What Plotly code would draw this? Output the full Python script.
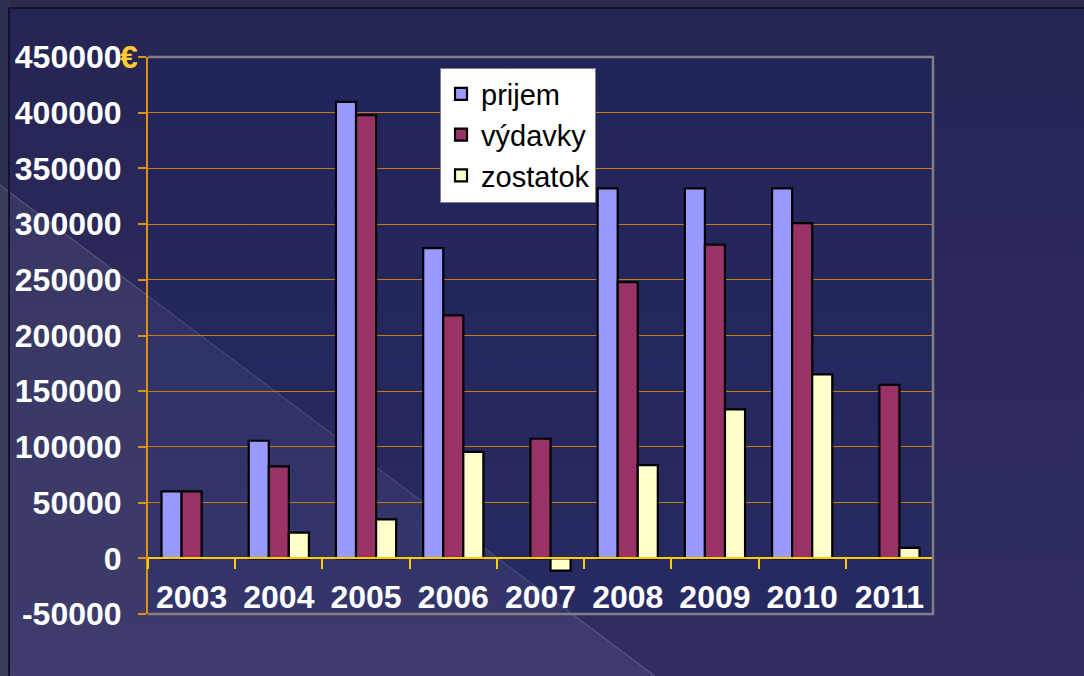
import base64
import plotly.graph_objects as go

# ---- data ----
years = ["2003", "2004", "2005", "2006", "2007", "2008", "2009", "2010", "2011"]
prijem = [60000, 105500, 409700, 278400, None, 332000, 332000, 332000, None]
vydavky = [60000, 82500, 397700, 218000, 107300, 248000, 281600, 300900, 155600]
zostatok = [None, 23000, 35000, 95500, -11100, 83600, 133600, 165100, 9300]
y_tickvals = [-50000, 0, 50000, 100000, 150000, 200000, 250000, 300000, 350000, 400000, 450000]
y_ticktext = ["-50000", "0", "50000", "100000", "150000", "200000", "250000",
              "300000", "350000", "400000", "450000"]

W, H = 1084, 676
L, R, T, B = 148, 151, 57, 62
PW, PH = W - L - R, H - T - B

FONT = "Arial, 'Liberation Sans', sans-serif"

# ---- slide background (svg image) ----
svg = f'''<svg xmlns="http://www.w3.org/2000/svg" width="{W}" height="{H}" viewBox="0 0 {W} {H}" preserveAspectRatio="none">
<defs><linearGradient id="g" x1="0" y1="0" x2="0" y2="1">
<stop offset="0" stop-color="#252554"/><stop offset="1" stop-color="#302e61"/></linearGradient></defs>
<rect width="{W}" height="{H}" fill="url(#g)"/>
<rect x="0" y="0" width="{W}" height="8" fill="#2a2c4a"/>
<rect x="0" y="0" width="9" height="{H}" fill="#2c2f50"/>
<polygon points="0,185 655,676 0,676" fill="#ffffff" fill-opacity="0.07"/>
<line x1="0" y1="185" x2="655" y2="676" stroke="#9a9acc" stroke-opacity="0.45" stroke-width="1"/>
<rect x="{L}" y="{T}" width="{PW}" height="{PH}" fill="#14206e" fill-opacity="0.22"/>
<line x1="9" y1="8" x2="{W}" y2="8" stroke="#12122a" stroke-width="2"/>
<line x1="9" y1="8" x2="9" y2="{H}" stroke="#12122a" stroke-width="2"/>
</svg>'''
svg_uri = "data:image/svg+xml;base64," + base64.b64encode(svg.encode()).decode()

fig = go.Figure()
line = dict(color="#000000", width=2.2)
fig.add_bar(name="prijem", x=years, y=prijem, marker=dict(color="#9999FF", line=line))
fig.add_bar(name="výdavky", x=years, y=vydavky, marker=dict(color="#993366", line=line))
fig.add_bar(name="zostatok", x=years, y=zostatok, marker=dict(color="#FFFFCC", line=line))

fig.update_layout(
    width=W, height=H,
    margin=dict(l=L, r=R, t=T, b=B, pad=0),
    paper_bgcolor="#262656",
    plot_bgcolor="rgba(0,0,0,0)",
    barmode="group", bargap=0.31, bargroupgap=0,
    font=dict(family=FONT, color="white"),
    showlegend=True,
    legend=dict(x=0.372, y=0.981, xanchor="left", yanchor="top",
                bgcolor="white", bordercolor="#808080", borderwidth=1,
                font=dict(family=FONT, size=29, color="black"),
                tracegroupgap=0),
    xaxis=dict(type="category", anchor="free", position=0.1,
               showline=True, linecolor="#FFCC00", linewidth=1.5,
               ticks="outside", ticklen=10, tickcolor="#FFCC00", tickwidth=1.5,
               tickson="boundaries", showgrid=False, zeroline=False,
               tickfont=dict(family=FONT, size=32, color="white", weight="bold"),
               ticklabelstandoff=11),
    yaxis=dict(range=[-50000, 450000], tickvals=y_tickvals, ticktext=y_ticktext,
               showgrid=True, gridcolor="#C87A10", gridwidth=1,
               zeroline=True, zerolinecolor="#FFCC00", zerolinewidth=1.5,
               showline=True, linecolor="#E0900F", linewidth=2,
               ticks="outside", ticklen=8, tickcolor="#E0900F", tickwidth=1.5,
               tickfont=dict(family=FONT, size=32, color="white", weight="bold"),
               ticklabelstandoff=10),
    images=[dict(source=svg_uri, xref="paper", yref="paper",
                 x=-L / PW, y=1 + T / PH, sizex=W / PW, sizey=H / PH,
                 xanchor="left", yanchor="top", sizing="stretch", layer="below")],
    shapes=[dict(type="path", xref="paper", yref="paper",
                 path="M 0,1 L 1,1 L 1,0 L 0,0",
                 line=dict(color="#808080", width=2.5), layer="above")],
    annotations=[dict(text="€", xref="paper", yref="y", x=-0.0245, y=450000,
                      xanchor="center", yanchor="middle", showarrow=False,
                      font=dict(family=FONT, size=32, color="#FFCC33", weight="bold"))],
)

fig.write_html("out.html", config={"displayModeBar": False},
               post_script="document.body.style.margin='0';")
